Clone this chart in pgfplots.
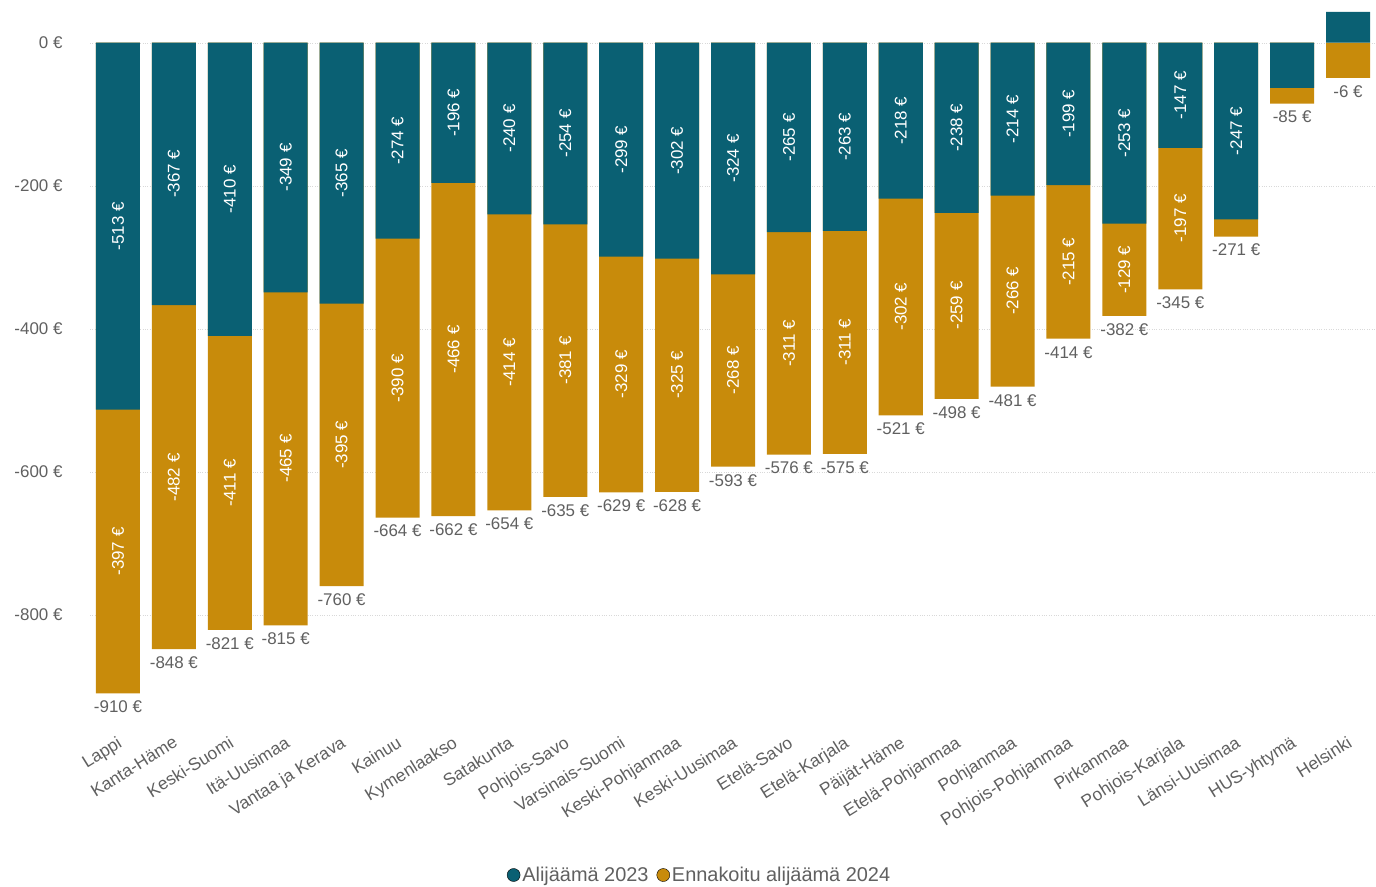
\documentclass[border=0pt]{standalone}
\usepackage{fontspec}
\setmainfont{Liberation Sans}
\usepackage{pgfplots}
\usepackage{pgfplotstable}
\pgfplotsset{compat=1.18}

\definecolor{tealbar}{HTML}{0A6073}
\definecolor{goldbar}{HTML}{C88B0B}
\definecolor{txtgray}{HTML}{606060}

% a = 2023, b = 2024 (ennakoitu), low = lower end of the gold bar, tot = label
\pgfplotstableread{
x name a b low tot
0 Lappi -513 -397 -910 -910
1 Kanta-Häme -367 -482 -848 -848
2 Keski-Suomi -410 -411 -821 -821
3 Itä-Uusimaa -349 -465 -815 -815
4 {Vantaa ja Kerava} -365 -395 -760 -760
5 Kainuu -274 -390 -664 -664
6 Kymenlaakso -196 -466 -662 -662
7 Satakunta -240 -414 -654 -654
8 Pohjois-Savo -254 -381 -635 -635
9 Varsinais-Suomi -299 -329 -629 -629
10 Keski-Pohjanmaa -302 -325 -628 -628
11 Keski-Uusimaa -324 -268 -593 -593
12 Etelä-Savo -265 -311 -576 -576
13 Etelä-Karjala -263 -311 -575 -575
14 Päijät-Häme -218 -302 -521 -521
15 Etelä-Pohjanmaa -238 -259 -498 -498
16 Pohjanmaa -214 -266 -481 -481
17 Pohjois-Pohjanmaa -199 -215 -414 -414
18 Pirkanmaa -253 -129 -382 -382
19 Pohjois-Karjala -147 -197 -345 -345
20 Länsi-Uusimaa -247 -24 -271 -271
21 HUS-yhtymä -63 -22 -85 -85
22 Helsinki 43 -49 -49 -6
}\data

\begin{document}
\begin{tikzpicture}[x=1bp,y=1bp]
\useasboundingbox (0,0) rectangle (1376,886);
\begin{axis}[
  at={(90bp,164bp)}, anchor=south west,
  scale only axis, width=1286bp, height=715bp,
  xmin=-0.5, xmax=22.5, ymin=-950, ymax=50,
  axis line style={draw=none},
  tick style={draw=none},
  xtick=data,
  xticklabels from table={\data}{name},
  xticklabel style={rotate=32, anchor=north east, font=\fontsize{17.5}{19}\selectfont, text=txtgray, yshift=-7bp, xshift=-5bp},
  ytick={-800,-600,-400,-200,0},
  yticklabels={-800 €,-600 €,-400 €,-200 €,0 €},
  yticklabel style={font=\fontsize{17}{19}\selectfont, text=txtgray, xshift=-24bp},
  ymajorgrids,
  major grid style={dotted, draw=black!15},
  legend style={draw=none, at={(0.474,-0.214)}, anchor=center,
    legend columns=2, font=\fontsize{20}{22}\selectfont, text=txtgray,
    /tikz/every even column/.append style={column sep=6bp}},
  legend image code/.code={\fill[#1] (0bp,0bp) circle (6.5bp);},
]
% gold bars: from 0 down to the total
\addplot[ybar, bar width=44bp, bar shift=0pt, fill=goldbar, draw=none, forget plot]
  table[x=x, y=low] {\data};
% teal bars: from 0 to the 2023 value
\addplot[ybar, bar width=44bp, bar shift=0pt, fill=tealbar, draw=none, forget plot]
  table[x=x, y=a] {\data};

% labels inside the teal part
\addplot[draw=none, mark=none, forget plot, point meta=explicit symbolic,
  skip coords between index={21}{23},
  nodes near coords={\pgfplotspointmeta\ €},
  nodes near coords style={anchor=center, rotate=90, text=white, font=\fontsize{17}{19}\selectfont}]
  table[x=x, y expr=\thisrow{a}/2, meta=a] {\data};
% labels inside the gold part
\addplot[draw=none, mark=none, forget plot, point meta=explicit symbolic,
  skip coords between index={20}{23},
  nodes near coords={\pgfplotspointmeta\ €},
  nodes near coords style={anchor=center, rotate=90, text=white, font=\fontsize{17}{19}\selectfont}]
  table[x=x, y expr=\thisrow{a}+\thisrow{b}/2, meta=b] {\data};
% total labels below the bars
\addplot[draw=none, mark=none, forget plot, point meta=explicit symbolic,
  nodes near coords={\pgfplotspointmeta\ €},
  nodes near coords style={anchor=north, yshift=-4bp, text=txtgray, font=\fontsize{17}{19}\selectfont}]
  table[x=x, y=low, meta=tot] {\data};

\addlegendimage{fill=tealbar}
\addlegendentry{Alijäämä 2023}
\addlegendimage{fill=goldbar}
\addlegendentry{Ennakoitu alijäämä 2024}
\end{axis}
\end{tikzpicture}
\end{document}
